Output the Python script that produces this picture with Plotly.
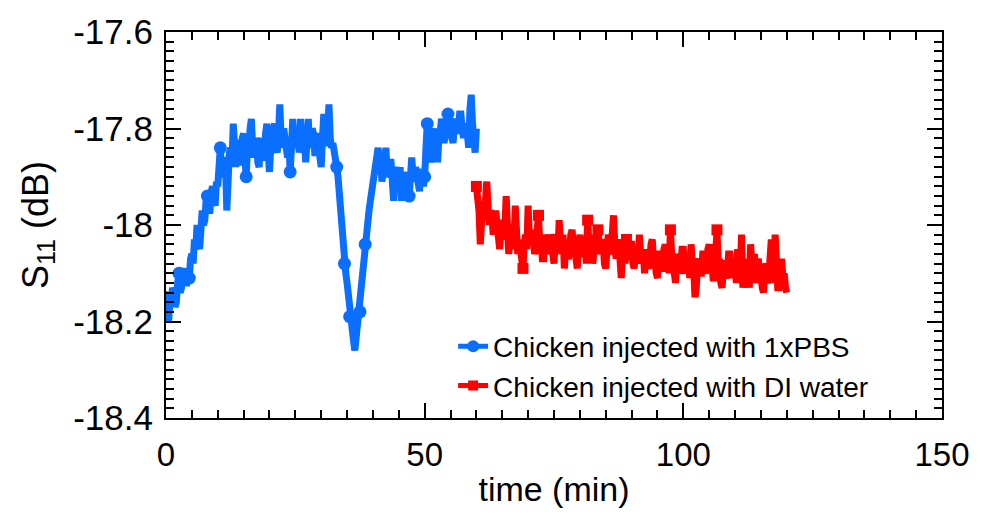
import plotly.graph_objects as go

# ---------------- data ----------------
pbs_t_start = 0.0
pbs_dt = 0.25
pbs_values = [
    -18.15, -18.18, -18.20, -18.16, -18.17, -18.13, -18.14, -18.17,   # 0 - 1.75
    -18.16, -18.12, -18.10, -18.14, -18.13, -18.10, -18.09, -18.12,   # 2 - 3.75
    -18.12, -18.09, -18.11, -18.07, -18.06, -18.08, -18.03, -18.05,   # 4 - 5.75
    -18.00, -18.04, -18.05, -18.01, -17.97, -18.00, -17.99, -17.95,   # 6 - 7.75
    -17.94, -17.97, -17.97, -17.93, -17.92, -17.95, -17.96, -17.91,   # 8 - 9.75
    -17.92, -17.88, -17.84, -17.89, -17.90, -17.86, -17.87, -17.97,   # 10 - 11.75
    -17.88, -17.85, -17.84, -17.87, -17.79, -17.86, -17.88, -17.83,   # 12 - 13.75
    -17.83, -17.87, -17.87, -17.82, -17.81, -17.86, -17.90, -17.84,   # 14 - 15.75
    -17.85, -17.80, -17.78, -17.84, -17.86, -17.82, -17.83, -17.87,   # 16 - 17.75
    -17.88, -17.83, -17.82, -17.86, -17.86, -17.81, -17.79, -17.85,   # 18 - 19.75
    -17.89, -17.84, -17.83, -17.80, -17.79, -17.84, -17.85, -17.81,   # 20 - 21.75
    -17.75, -17.82, -17.84, -17.80, -17.82, -17.85, -17.86, -17.83,   # 22 - 23.75
    -17.89, -17.84, -17.78, -17.83, -17.84, -17.80, -17.81, -17.85,   # 24 - 25.75
    -17.78, -17.83, -17.85, -17.82, -17.87, -17.83, -17.78, -17.84,   # 26 - 27.75
    -17.83, -17.80, -17.81, -17.85, -17.85, -17.81, -17.82, -17.86,   # 28 - 29.75
    -17.88, -17.82, -17.77, -17.83, -17.83, -17.80, -17.75, -17.82,   # 30 - 31.75
    -17.84, -17.83, -17.86, -17.85, -17.88, -17.90, -17.94, -17.96,   # 32 - 33.75
    -17.98, -18.03, -18.08, -18.10, -18.12, -18.15, -18.19, -18.20,   # 34 - 35.75
    -18.22, -18.24, -18.26, -18.23, -18.20, -18.19, -18.18, -18.14,   # 36 - 37.75
    -18.10, -18.07, -18.04, -18.02, -18.00, -17.97, -17.95, -17.93,   # 38 - 39.75
    -17.93, -17.90, -17.89, -17.87, -17.84, -17.88, -17.87, -17.91,   # 40 - 41.75
    -17.88, -17.86, -17.84, -17.89, -17.90, -17.87, -17.87, -17.91,   # 42 - 43.75
    -17.95, -17.89, -17.88, -17.92, -17.91, -17.88, -17.95, -17.90,   # 44 - 45.75
    -17.89, -17.93, -17.92, -17.90, -17.94, -17.91, -17.86, -17.90,   # 46 - 47.75
    -17.91, -17.88, -17.90, -17.93, -17.93, -17.89, -17.89, -17.92,   # 48 - 49.75
    -17.90, -17.84, -17.79, -17.81, -17.82, -17.87, -17.84, -17.80,   # 50 - 51.75
    -17.80, -17.83, -17.87, -17.82, -17.81, -17.78, -17.79, -17.83,   # 52 - 53.75
    -17.80, -17.78, -17.77, -17.80, -17.79, -17.82, -17.83, -17.79,   # 54 - 55.75
    -17.78, -17.81, -17.80, -17.77, -17.77, -17.80, -17.82, -17.80,   # 56 - 57.75
    -17.79, -17.81, -17.84, -17.76, -17.73, -17.79, -17.83, -17.85,   # 58 - 59.75
    -17.80,                                                           # 60
]
pbs_marker_times = [0, 2.5, 4.5, 8, 10.5, 15.5, 24, 33, 34.5, 35.5, 37.5, 38.5, 47, 50, 50.5, 54.5]

di_t_start = 60.0
di_dt = 0.25
di_values = [
    -17.92, -17.94, -17.97, -18.04, -17.98, -17.95, -17.99, -17.93,   # 60 - 61.75
    -17.91, -17.96, -18.00, -17.97, -17.98, -18.02, -18.00, -17.97,   # 62 - 63.75
    -18.00, -18.03, -18.05, -18.00, -17.99, -18.03, -18.01, -17.94,   # 64 - 65.75
    -18.03, -18.06, -18.02, -18.00, -18.02, -18.05, -17.96, -18.01,   # 66 - 67.75
    -18.06, -18.03, -18.05, -18.09, -18.09, -18.04, -18.02, -18.05,   # 68 - 69.75
    -17.96, -18.03, -18.04, -18.01, -18.02, -18.06, -18.05, -18.01,   # 70 - 71.75
    -17.98, -18.04, -18.03, -18.07, -18.07, -18.02, -18.04, -18.06,   # 72 - 73.75
    -18.06, -18.02, -18.03, -18.06, -18.08, -18.03, -18.02, -18.06,   # 74 - 75.75
    -17.99, -18.04, -18.05, -18.02, -18.09, -18.05, -18.03, -18.07,   # 76 - 77.75
    -18.06, -18.02, -18.01, -18.05, -18.04, -18.07, -18.09, -18.04,   # 78 - 79.75
    -18.02, -18.06, -18.06, -18.03, -18.03, -18.08, -17.99, -18.04,   # 80 - 81.75
    -18.05, -18.02, -18.08, -18.05, -18.03, -18.06, -18.01, -18.04,   # 82 - 83.75
    -18.06, -18.03, -18.04, -18.08, -18.09, -18.05, -18.02, -18.06,   # 84 - 85.75
    -18.05, -18.02, -17.98, -18.04, -18.07, -18.04, -18.03, -18.07,   # 86 - 87.75
    -18.11, -18.06, -18.05, -18.08, -18.03, -18.06, -18.07, -18.04,   # 88 - 89.75
    -18.04, -18.08, -18.09, -18.05, -18.05, -18.08, -18.02, -18.06,   # 90 - 91.75
    -18.08, -18.05, -18.10, -18.07, -18.05, -18.09, -18.08, -18.04,   # 92 - 93.75
    -18.03, -18.08, -18.07, -18.10, -18.11, -18.06, -18.06, -18.09,   # 94 - 95.75
    -18.09, -18.05, -18.04, -18.08, -18.07, -18.10, -18.01, -18.06,   # 96 - 97.75
    -18.08, -18.12, -18.12, -18.07, -18.06, -18.10, -18.09, -18.05,   # 98 - 99.75
    -18.05, -18.09, -18.10, -18.06, -18.07, -18.11, -18.04, -18.08,   # 100 - 101.75
    -18.09, -18.15, -18.13, -18.08, -18.07, -18.10, -18.10, -18.06,   # 102 - 103.75
    -18.06, -18.10, -18.09, -18.05, -18.04, -18.09, -18.08, -18.11,   # 104 - 105.75
    -18.11, -18.06, -18.01, -18.08, -18.07, -18.12, -18.13, -18.08,   # 106 - 107.75
    -18.08, -18.11, -18.10, -18.06, -18.06, -18.09, -18.11, -18.07,   # 108 - 109.75
    -18.08, -18.12, -18.05, -18.09, -18.10, -18.02, -18.13, -18.09,   # 110 - 111.75
    -18.07, -18.10, -18.09, -18.13, -18.04, -18.08, -18.10, -18.06,   # 112 - 113.75
    -18.12, -18.08, -18.07, -18.11, -18.10, -18.13, -18.14, -18.09,   # 114 - 115.75
    -18.08, -18.12, -18.11, -18.07, -18.03, -18.09, -18.12, -18.02,   # 116 - 117.75
    -18.09, -18.13, -18.13, -18.08, -18.07, -18.11, -18.10, -18.13,   # 118 - 119.75
    -18.14,                                                           # 120
]
di_marker_times = [60, 69, 72, 81.5, 83.5, 89, 97.5, 106.5]

series_names = ["Chicken injected with 1xPBS", "Chicken injected with DI water"]
x_tick_vals = [0, 50, 100, 150]
x_tick_text = ["0", "50", "100", "150"]
y_tick_vals = [-17.6, -17.8, -18.0, -18.2, -18.4]
y_tick_text = ["-17.6", "-17.8", "-18", "-18.2", "-18.4"]

# ---------------- build ----------------
pbs_t = [pbs_t_start + i * pbs_dt for i in range(len(pbs_values))]
di_t = [di_t_start + i * di_dt for i in range(len(di_values))]


def pick(times, t0, dt, vals):
    idx = [int(round((t - t0) / dt)) for t in times]
    return [t0 + i * dt for i in idx], [vals[i] for i in idx]


pbs_mx, pbs_my = pick(pbs_marker_times, pbs_t_start, pbs_dt, pbs_values)
di_mx, di_my = pick(di_marker_times, di_t_start, di_dt, di_values)

BLUE = "#0A6EFF"
RED = "#FF0000"
LW = 7
FONT = "Liberation Sans, Arial, sans-serif"

fig = go.Figure()
fig.add_trace(go.Scatter(x=di_t, y=di_values, mode="lines", line=dict(color=RED, width=LW),
                         showlegend=False, hoverinfo="skip"))
fig.add_trace(go.Scatter(x=di_mx, y=di_my, mode="markers",
                         marker=dict(color=RED, symbol="square", size=11), showlegend=False))
fig.add_trace(go.Scatter(x=pbs_t, y=pbs_values, mode="lines", line=dict(color=BLUE, width=LW),
                         showlegend=False, hoverinfo="skip"))
fig.add_trace(go.Scatter(x=pbs_mx, y=pbs_my, mode="markers",
                         marker=dict(color=BLUE, symbol="circle", size=13), showlegend=False))
# legend entries
fig.add_trace(go.Scatter(x=[None], y=[None], mode="lines+markers", name=series_names[0],
                         line=dict(color=BLUE, width=5), marker=dict(color=BLUE, symbol="circle", size=12)))
fig.add_trace(go.Scatter(x=[None], y=[None], mode="lines+markers", name=series_names[1],
                         line=dict(color=RED, width=5), marker=dict(color=RED, symbol="square", size=10)))

axis_common = dict(showline=True, linecolor="black", linewidth=2, mirror="allticks",
                   ticks="inside", ticklen=15, tickwidth=2, tickcolor="black",
                   showgrid=False, zeroline=False)

fig.update_xaxes(range=[0, 150], tickvals=x_tick_vals, ticktext=x_tick_text,
                 tickfont=dict(family=FONT, size=33, color="black"), ticklabelstandoff=6,
                 title=dict(text="time (min)", standoff=6,
                            font=dict(family=FONT, size=34, color="black")),
                 minor=dict(dtick=5, ticks="inside", ticklen=8, tickwidth=2, tickcolor="black", showgrid=False),
                 **axis_common)
fig.update_yaxes(range=[-18.4, -17.6], tickvals=y_tick_vals, ticktext=y_tick_text,
                 tickfont=dict(family=FONT, size=35, color="black"), ticklabelstandoff=4,
                 title=dict(text="S<sub>11</sub> (dB)", standoff=14,
                            font=dict(family=FONT, size=36, color="black")),
                 minor=dict(dtick=0.02, tick0=-18.4, ticks="inside", ticklen=8, tickwidth=2, tickcolor="black", showgrid=False),
                 **axis_common)

fig.update_layout(
    width=982, height=514,
    margin=dict(l=166, r=30, t=31, b=95),
    paper_bgcolor="white", plot_bgcolor="white",
    legend=dict(x=0.37, y=0.25, xanchor="left", yanchor="top", bgcolor="rgba(0,0,0,0)",
                font=dict(family=FONT, size=28, color="black"),
                tracegroupgap=0, itemwidth=30),
)

fig.write_html("out.html")
